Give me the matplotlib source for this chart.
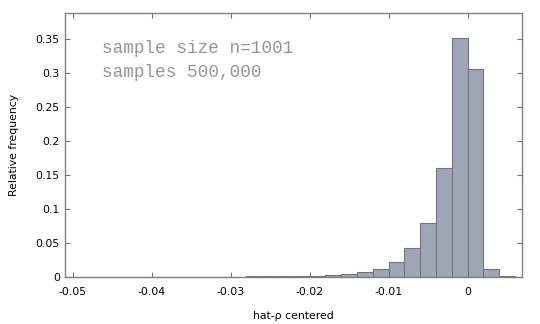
import numpy as np
import matplotlib
matplotlib.use("Agg")
import matplotlib.pyplot as plt

# Histogram data: bin left edges (width 0.002) and relative frequencies
bin_width = 0.002
bin_left = [-0.044, -0.042, -0.040, -0.038, -0.036, -0.034, -0.032, -0.030,
            -0.028, -0.026, -0.024, -0.022, -0.020, -0.018, -0.016, -0.014,
            -0.012, -0.010, -0.008, -0.006, -0.004, -0.002, 0.000, 0.002, 0.004]
rel_freq = [0.0002, 0.0002, 0.0001, 0.0001, 0.0002, 0.0002, 0.0002, 0.0002,
            0.0003, 0.0003, 0.0003, 0.0005, 0.0010, 0.0020, 0.0039, 0.0064,
            0.0118, 0.0220, 0.0420, 0.0790, 0.1600, 0.3520, 0.3060, 0.0110, 0.0005]

xticks = [-0.05, -0.04, -0.03, -0.02, -0.01, 0]
xtick_labels = ["-0.05", "-0.04", "-0.03", "-0.02", "-0.01", "0"]
yticks = [0, 0.05, 0.1, 0.15, 0.2, 0.25, 0.3, 0.35]
ytick_labels = ["0", "0.05", "0.1", "0.15", "0.2", "0.25", "0.3", "0.35"]

plt.rcParams['font.family'] = ['DejaVu Sans']

fig = plt.figure(figsize=(5.4, 3.24), dpi=100)
ax = fig.add_axes([0.1198, 0.146, 0.9667 - 0.1198, 0.959 - 0.146])

ax.bar(bin_left, rel_freq, width=bin_width, align='edge',
       color='#a0a6b5', edgecolor='#6f7480', linewidth=0.8)

ax.set_xlim(-0.051, 0.0069)
ax.set_ylim(0, 0.3883)
ax.set_xticks(xticks)
ax.set_xticklabels(xtick_labels)
ax.set_yticks(yticks)
ax.set_yticklabels(ytick_labels)

for s in ax.spines.values():
    s.set_color('#808080')
    s.set_linewidth(1.0)

ax.tick_params(axis='both', direction='in', length=3.6, width=0.8,
               color='#707070', labelsize=7.8, top=True, right=True)
ax.tick_params(axis='x', pad=7.5)
ax.tick_params(axis='y', pad=3.5)

ax.set_xlabel("hat-\u03c1 centered", fontsize=7.8, labelpad=10)
ax.set_ylabel("Relative frequency", fontsize=7.8, labelpad=12)

ax.text(0.081, 0.867, "sample size n=1001", transform=ax.transAxes,
        family=['Liberation Mono', 'DejaVu Sans Mono'], fontsize=12.7,
        color='#959595', va='center', ha='left')
ax.text(0.081, 0.776, "samples 500,000", transform=ax.transAxes,
        family=['Liberation Mono', 'DejaVu Sans Mono'], fontsize=12.7,
        color='#959595', va='center', ha='left')

fig.savefig("out.png", dpi=100)
